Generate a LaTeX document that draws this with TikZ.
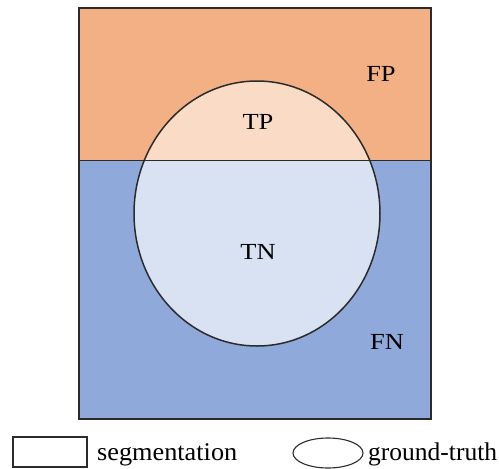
\documentclass[tikz,border=0pt]{standalone}
\usepackage{fontspec}
\usepackage{graphicx}
\setmainfont{Liberation Serif}
\definecolor{fpcol}{HTML}{F2B084}
\definecolor{tpcol}{HTML}{FADCC6}
\definecolor{fncol}{HTML}{8FAADA}
\definecolor{tncol}{HTML}{D9E2F3}
\definecolor{edge}{HTML}{2B2B2B}
\newcommand{\wide}[1]{\scalebox{1.15}[1]{#1}}
\tikzset{
  lbl/.style={font=\fontsize{23}{23}\selectfont, text=black, inner sep=0pt},
  leg/.style={font=\fontsize{25.5}{26}\selectfont, text=black, inner sep=0pt, anchor=base west},
  outline/.style={draw=edge, line width=1.5pt}
}
\begin{document}
\begin{tikzpicture}[x=1pt,y=-1pt]
\useasboundingbox (0,0) rectangle (499,469);
% regions
\fill[fpcol] (79,8) rectangle (431,160.5);
\fill[fncol] (79,160.5) rectangle (431,419);
\begin{scope}
  \clip (79,8) rectangle (431,160.5);
  \fill[tpcol] (257,213.5) ellipse [x radius=123, y radius=132.5];
\end{scope}
\begin{scope}
  \clip (79,160.5) rectangle (431,419);
  \fill[tncol] (257,213.5) ellipse [x radius=123, y radius=132.5];
\end{scope}
% outlines
\draw[outline] (79,8) rectangle (431,419);
\draw[outline] (79,160.5) -- (431,160.5);
\draw[outline] (257,213.5) ellipse [x radius=123, y radius=132.5];
% labels
\node[lbl] (tp) at (258,122) {\wide{TP}};
\node[lbl] (tn) at (258,252) {\wide{TN}};
\node[lbl] (fp) at (381,74) {\wide{FP}};
\node[lbl] (fn) at (387,342) {\wide{FN}};
% legend
\draw[outline, line width=1.1pt] (13,437) rectangle (87,467);
\node[leg] (seg) at (97,460) {\scalebox{1.03}[1]{segmentation}};
\draw[outline, line width=1.1pt] (328,453) ellipse [x radius=35, y radius=15];
\node[leg] (gt) at (368,460) {ground-truth};
\end{tikzpicture}
\end{document}
